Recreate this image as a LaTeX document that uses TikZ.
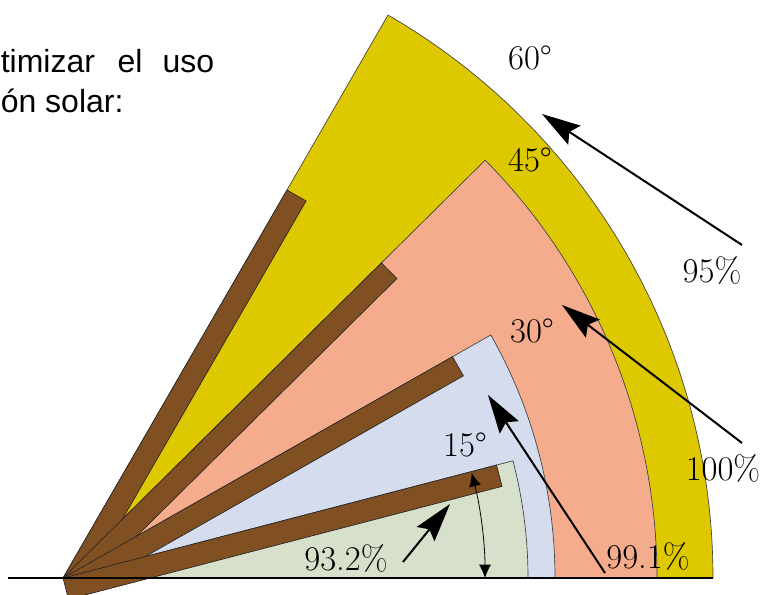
\documentclass[tikz,border=0pt]{standalone}
\usepackage{fontspec}
\newfontfamily\slidefont{Liberation Sans}
\usetikzlibrary{arrows.meta}
\definecolor{secY}{HTML}{DEC800}
\definecolor{secS}{HTML}{F4AC8C}
\definecolor{secB}{HTML}{D4DCEE}
\definecolor{secG}{HTML}{D6E0CA}
\definecolor{barbrown}{HTML}{805023}
\begin{document}
\begin{tikzpicture}[x=0.75pt,y=0.75pt,
  sector/.style={draw=black!75, line width=0.5pt},
  bar/.style={fill=barbrown, draw=black!85, line width=0.5pt},
  lbl/.style={font=\fontsize{26}{31}\selectfont, inner sep=0pt},
  slide/.style={font=\slidefont\fontsize{24}{29}\selectfont, inner sep=0pt},
  bigarrow/.style={line width=1.5pt, -{Stealth[length=29pt,width=17pt,inset=4.5pt]}},
  dim/.style={line width=0.6pt, {Latex[length=10pt,width=9pt]}-{Latex[length=10pt,width=9pt]}}]
\useasboundingbox (0,0) rectangle (765,595);
\coordinate (P) at (63,17);
% sectors
\path[sector, fill=secY] (P) -- ++(0:650) arc[start angle=0,end angle=60,radius=650] -- cycle;
\path[sector, fill=secS] (P) -- ++(0:594) arc[start angle=0,end angle=44.7,radius=594] -- cycle;
\path[sector, fill=secB] (P) -- ++(0:492) arc[start angle=0,end angle=29.6,radius=492] -- cycle;
\path[sector, fill=secG] (P) -- ++(0:465) arc[start angle=0,end angle=14.6,radius=465] -- cycle;
% bars
\foreach \a in {60,44.7,29.6,14.6} {
  \path[bar] (P) -- ++(\a:448) -- ++(\a-90:22) -- ++(\a+180:448) -- cycle;
}
% baseline
\coordinate (L0) at (8,17);
\coordinate (L1) at (713,17);
\draw[line width=1.4pt] (L0) -- (L1);
% angle dimension
\draw[dim] (P) ++(0:422) arc[start angle=0,end angle=14.4,radius=422];
% arrows
\coordinate (s95) at (742,350); \coordinate (t95) at (542,481);
\coordinate (s100) at (742,152); \coordinate (t100) at (562,290);
\coordinate (s991) at (605,22); \coordinate (t991) at (488,200);
\coordinate (s932) at (403,33); \coordinate (t932) at (450,91);
\draw[bigarrow] (s95) -- (t95);
\draw[bigarrow] (s100) -- (t100);
\draw[bigarrow] (s991) -- (t991);
\draw[bigarrow] (s932) -- (t932);
% labels
\node[lbl] (l60) at (530,537) {60°};
\node[lbl] (l45) at (530,435) {45°};
\node[lbl] (l30) at (532,264) {30°};
\node[lbl] (l15) at (465,150) {15°};
\node[lbl] (p95) at (712,325) {95\%};
\node[lbl] (p100) at (723,127) {100\%};
\node[lbl] (p991) at (648,39) {99.1\%};
\node[lbl] (p932) at (346,37) {93.2\%};
% slide text
\node[slide, anchor=base west] (t1) at (0.5,522) {timizar\hspace{17pt}el\hspace{15pt}uso};
\node[slide, anchor=base west] (t2) at (0.5,482) {ón solar:};
\end{tikzpicture}
\end{document}
